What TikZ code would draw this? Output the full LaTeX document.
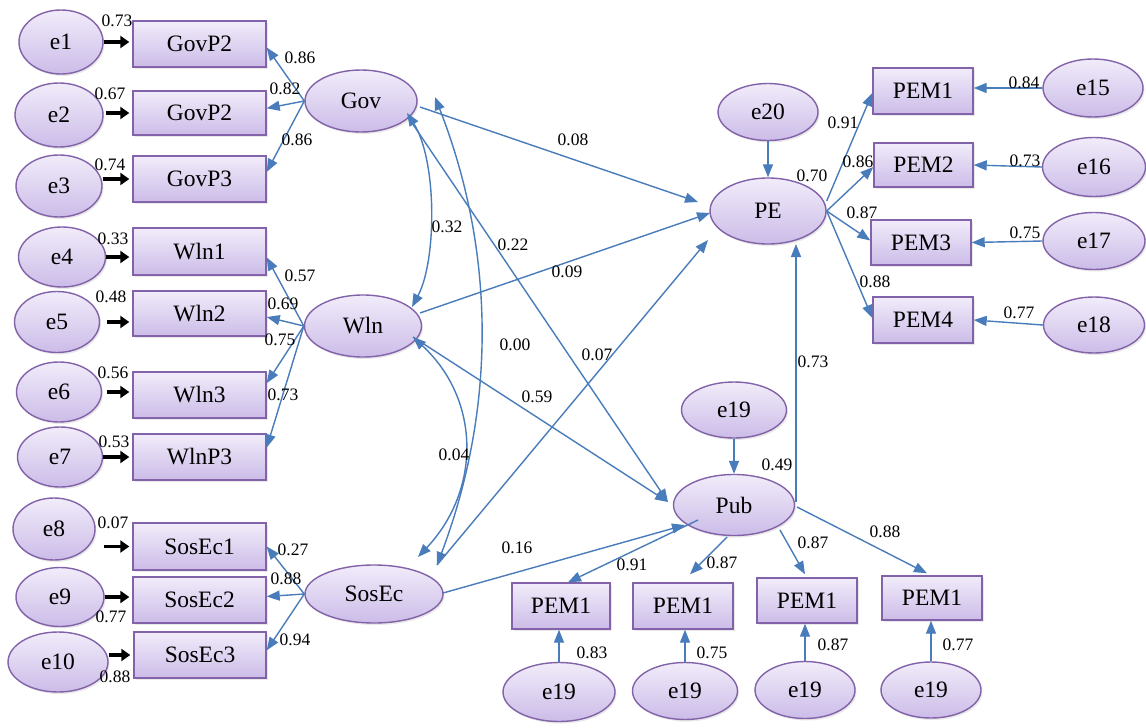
\documentclass[tikz,border=0pt]{standalone}
\usepackage{fontspec}
\setmainfont{Liberation Serif}
\usetikzlibrary{shapes.geometric,arrows.meta,calc,shadows}

\definecolor{lavtop}{RGB}{241,236,250}
\definecolor{lavbot}{RGB}{204,188,232}
\definecolor{lavline}{RGB}{130,98,168}
\definecolor{pathblue}{RGB}{72,124,186}

\tikzset{
  sz/.style 2 args={minimum width=#1pt, minimum height=#2pt},
  shapebase/.style={draw=lavline, line width=1.4pt, top color=lavtop, bottom color=lavbot,
    inner sep=0pt, font=\fontsize{23.5}{26}\selectfont,
    drop shadow={shadow xshift=1.5pt, shadow yshift=-2pt, opacity=0.18}},
  latent/.style={shapebase, ellipse},
  obs/.style={shapebase, rectangle},
  blk/.style={draw=black, line width=3.2pt, -{Triangle[length=9pt,width=12pt]}, shorten >=3pt},
  lnk/.style={draw=pathblue, line width=1.4pt, -{Triangle[length=13pt,width=10pt]}},
  cov/.style={draw=pathblue, line width=1.4pt,
    {Triangle[length=13pt,width=10pt]}-{Triangle[length=13pt,width=10pt]}},
  est/.style={font=\fontsize{17.5}{19}\selectfont, inner sep=0pt},
}

\begin{document}
\begin{tikzpicture}[x=1pt, y=-1pt]
\fill[white] (0,0) rectangle (1146,728);
\useasboundingbox (0,0) rectangle (1146,728);

% ---------- error terms, left column ----------
\node[latent, sz={84}{64}] (e1)  at (61,42)  {e1};
\node[latent, sz={88}{64}] (e2)  at (59,115) {e2};
\node[latent, sz={86}{62}] (e3)  at (59,186) {e3};
\node[latent, sz={87}{60}] (e4)  at (62,257) {e4};
\node[latent, sz={85}{61}] (e5)  at (57,322) {e5};
\node[latent, sz={85}{60}] (e6)  at (59,392) {e6};
\node[latent, sz={85}{60}] (e7)  at (60,457) {e7};
\node[latent, sz={82}{62}] (e8)  at (54,529) {e8};
\node[latent, sz={88}{59}] (e9)  at (60,597) {e9};
\node[latent, sz={100}{60}] (e10) at (58,662) {e10};

% ---------- indicators, left column ----------
\node[obs, sz={133}{46}] (g1) at (199.5,44)    {GovP2};
\node[obs, sz={133}{44}] (g2) at (199.5,113)   {GovP2};
\node[obs, sz={133}{46}] (g3) at (199.5,179)   {GovP3};
\node[obs, sz={133}{47}] (w1) at (199.5,251.5) {Wln1};
\node[obs, sz={133}{45}] (w2) at (199.5,313.5) {Wln2};
\node[obs, sz={133}{46}] (w3) at (199.5,395)   {Wln3};
\node[obs, sz={133}{46}] (w4) at (199.5,457)   {WlnP3};
\node[obs, sz={133}{47}] (s1) at (199.5,546.5) {SosEc1};
\node[obs, sz={133}{46}] (s2) at (199.5,600)   {SosEc2};
\node[obs, sz={132}{46}] (s3) at (200,655)     {SosEc3};

% ---------- latent factors ----------
\node[latent, sz={112}{62}] (gov) at (361,101) {Gov};
\node[latent, sz={117}{62}] (wln) at (363,326) {Wln};
\node[latent, sz={138}{58}] (sos) at (374,594) {SosEc};
\node[latent, sz={116}{66}] (pe)  at (768,211) {PE};
\node[latent, sz={121}{61}] (pub) at (734,505) {Pub};
\node[latent, sz={100}{57}] (e20) at (768,112) {e20};
\node[latent, sz={105}{56}] (e19t) at (734,410) {e19};

% ---------- PE indicators ----------
\node[obs, sz={100}{46}] (p1) at (923,91)    {PEM1};
\node[obs, sz={99}{44}]  (p2) at (923.5,165) {PEM2};
\node[obs, sz={100}{45}] (p3) at (921,242.5) {PEM3};
\node[obs, sz={100}{46}] (p4) at (923,320)   {PEM4};
\node[latent, sz={100}{58}] (e15) at (1093,88)  {e15};
\node[latent, sz={103}{59}] (e16) at (1094,167) {e16};
\node[latent, sz={102}{57}] (e17) at (1094,241) {e17};
\node[latent, sz={101}{56}] (e18) at (1094,325) {e18};

% ---------- Pub indicators ----------
\node[obs, sz={98}{46}]  (b1) at (561,606)   {PEM1};
\node[obs, sz={100}{46}] (b2) at (683,606)   {PEM1};
\node[obs, sz={100}{45}] (b3) at (807,600.5) {PEM1};
\node[obs, sz={100}{44}] (b4) at (932,598)   {PEM1};
\node[latent, sz={112}{59}] (f1) at (559,692) {e19};
\node[latent, sz={105}{57}] (f2) at (685,691) {e19};
\node[latent, sz={100}{57}] (f3) at (805,690) {e19};
\node[latent, sz={100}{56}] (f4) at (931,690) {e19};

% ---------- error arrows (black) ----------
\draw[blk] (e1.east) -- (e1.east -| g1.west);
\draw[blk, shorten <=2pt] (g2.west -| e2.east) -- (g2.west);
\draw[blk] (g3.west -| e3.east) -- (g3.west);
\draw[blk] (e4.east) -- (e4.east -| w1.west);
\draw[blk, shorten <=7pt] (e5.east) -- (e5.east -| w2.west);
\draw[blk, shorten <=5pt] (e6.east) -- (e6.east -| w3.west);
\draw[blk] (e7.east) -- (e7.east -| w4.west);
\draw[blk, shorten <=8pt] (s1.west -| e8.east) -- (s1.west);
\draw[blk] (e9.east) -- (e9.east -| s2.west);
\draw[blk] (s3.west -| e10.east) -- (s3.west);

% ---------- loadings, left ----------
\draw[lnk] (gov.west) -- (g1.-3);
\draw[lnk] (gov.west) -- (g2.4);
\draw[lnk] (gov.west) -- (g3.6);
\draw[lnk] (wln.west) -- (w1.-5);
\draw[lnk] (wln.west) -- (w2.-3);
\draw[lnk] (wln.west) -- (w3.10);
\draw[lnk] (wln.west) -- (w4.8);
\draw[lnk] (sos.west) -- (s1.east);
\draw[lnk] (sos.west) -- (s2.3);
\draw[lnk] (sos.west) -- (s3.4);

% ---------- covariances ----------
\draw[cov] ($(gov)+(46,12)$) .. controls ($(gov)+(76,59)$) and ($(wln)+(74,-66)$) .. ($(wln)+(49,-19)$);
\draw[cov] ($(wln)+(50,11)$) .. controls ($(wln)+(118,74)$) and ($(sos)+(107,-104)$) .. ($(sos)+(44,-37)$);
\draw[cov] ($(gov)+(74,-4)$) .. controls ($(gov)+(135,152)$) and ($(sos)+(122,-185)$) .. ($(sos)+(63,-29)$);

% ---------- structural paths ----------
\draw[lnk] ($(gov)+(59,6)$)   -- ($(pe)+(-70,-9)$);
\draw[lnk] ($(wln)+(57,-13)$) -- ($(pe)+(-58,2)$);
\draw[lnk] ($(sos)+(63,-29)$) -- ($(pe)+(-60,29)$);
\draw[lnk] ($(gov)+(47,16)$)  -- ($(pub)+(-66,-3)$);
\draw[lnk] ($(wln)+(50,11)$)  -- ($(pub)+(-66,-3)$);
\draw[lnk] ($(sos)+(69,-1)$)  -- ($(pub)+(-49,20)$);
\draw[lnk] ($(pub)+(62,-3)$)  -- ($(pe)+(28,33)$);
\draw[lnk] (e20.south) -- (pe.north);
\draw[lnk] (e19t.south) -- (pub.north);

% ---------- PE loadings ----------
\draw[lnk] ($(pe.east)+(0,-10)$) -- ($(p1.west)+(0,2)$);
\draw[lnk] (pe.east) -- ($(p2.west)+(0,2)$);
\draw[lnk] (pe.east) -- ($(p3.west)+(0,-2)$);
\draw[lnk] (pe.east) -- ($(p4.west)+(0,-2)$);
\draw[lnk] (e15.west) -- (e15.west -| p1.east);
\draw[lnk] (e16.west) -- (p2.east);
\draw[lnk] (e17.west) -- (p3.east);
\draw[lnk] (e18.west) -- (p4.east);

% ---------- Pub loadings ----------
\draw[lnk] ($(pub)+(-36,15)$) -- ($(b1.north)+(7,0)$);
\draw[lnk] ($(pub)+(-7,32)$)  -- ($(b2.north)+(7,-8)$);
\draw[lnk] ($(pub)+(46,25)$)  -- ($(b3.north)+(-2,-3)$);
\draw[lnk] ($(pub)+(63,2)$)   -- ($(b4.north)+(-5,-2)$);
\draw[lnk] (f1.north) -- (f1.north |- b1.south);
\draw[lnk] (f2.north) -- (f2.north |- b2.south);
\draw[lnk] (f3.north) -- (f3.north |- b3.south);
\draw[lnk] (f4.north) -- (f4.north |- b4.south);

% ---------- estimates ----------
\node[est] (v1)  at (117,21)  {0.73};
\node[est] (v2)  at (110,94)  {0.67};
\node[est] (v3)  at (110,165) {0.74};
\node[est] (v4)  at (113,239) {0.33};
\node[est] (v5)  at (111,297) {0.48};
\node[est] (v6)  at (113,373) {0.56};
\node[est] (v7)  at (114,442) {0.53};
\node[est] (v8)  at (113,523) {0.07};
\node[est] (v9)  at (111,617) {0.77};
\node[est] (v10) at (115,677) {0.88};

\node[est] (a1) at (300,58)  {0.86};
\node[est] (a2) at (285,89)  {0.82};
\node[est] (a3) at (297,140) {0.86};
\node[est] (a4) at (300,276) {0.57};
\node[est] (a5) at (283,304) {0.69};
\node[est] (a6) at (280,340) {0.75};
\node[est] (a7) at (283,395) {0.73};
\node[est] (a8) at (293,550) {0.27};
\node[est] (a9) at (286,579) {0.88};
\node[est] (a10) at (295,640) {0.94};

\node[est] (c1) at (573,140) {0.08};
\node[est] (c2) at (567,272) {0.09};
\node[est] (c3) at (597,355) {0.07};
\node[est] (c4) at (447,227) {0.32};
\node[est] (c5) at (513,245) {0.22};
\node[est] (c6) at (515,345) {0.00};
\node[est] (c7) at (537,397) {0.59};
\node[est] (c8) at (454,455) {0.04};
\node[est] (c9) at (517,548) {0.16};
\node[est] (c10) at (777,465) {0.49};
\node[est] (c11) at (813,362) {0.73};
\node[est] (c12) at (812,176) {0.70};

\node[est] (d1) at (632,565) {0.91};
\node[est] (d2) at (722,563) {0.87};
\node[est] (d3) at (813,543) {0.87};
\node[est] (d4) at (885,532) {0.88};
\node[est] (d5) at (592,653) {0.83};
\node[est] (d6) at (712,653) {0.75};
\node[est] (d7) at (833,645) {0.87};
\node[est] (d8) at (958,645) {0.77};

\node[est] (r1) at (843,123)  {0.91};
\node[est] (r2) at (858,162)  {0.86};
\node[est] (r3) at (862,213)  {0.87};
\node[est] (r4) at (875,282)  {0.88};
\node[est] (r5) at (1024,83)  {0.84};
\node[est] (r6) at (1025,161) {0.73};
\node[est] (r7) at (1025,233) {0.75};
\node[est] (r8) at (1019,313) {0.77};
\end{tikzpicture}
\end{document}
